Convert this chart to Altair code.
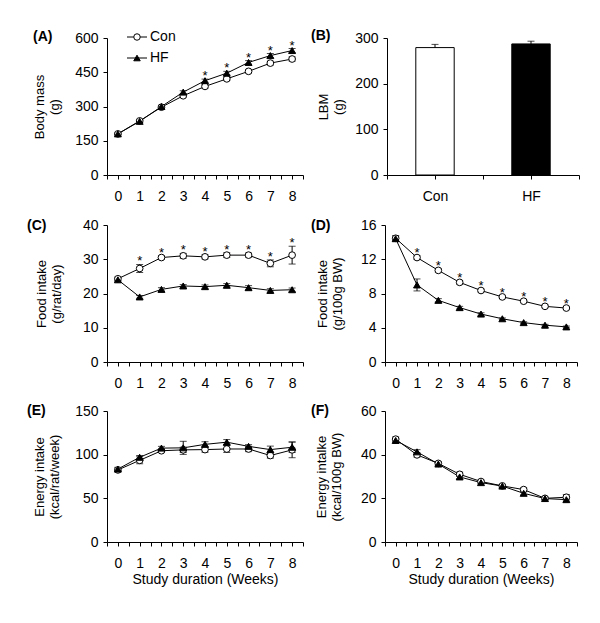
import altair as alt
import pandas as pd

FONT = "Liberation Sans"
weeks = list(range(9))

# (A) Body mass (g)
bm_con = [180, 237, 297, 347, 388, 421, 454, 490, 508]
bm_con_err = [4, 5, 5, 6, 7, 7, 7, 8, 9]
bm_hf = [180, 235, 300, 363, 413, 446, 493, 523, 545]
bm_hf_err = [4, 5, 5, 6, 7, 8, 8, 9, 9]
bm_stars = [4, 5, 6, 7, 8]

# (B) LBM (g)
lbm_groups = ["Con", "HF"]
lbm_vals = [279, 287]
lbm_err = [7, 6]

# (C) Food intake (g/rat/day)
fi_con = [24.3, 27.3, 30.5, 31.0, 30.7, 31.2, 31.2, 28.8, 31.2]
fi_con_err = [0.5, 1.2, 0.5, 0.7, 0.6, 0.7, 0.6, 1.0, 2.6]
fi_hf = [24.0, 19.0, 21.2, 22.2, 22.0, 22.4, 21.7, 20.9, 21.1]
fi_hf_err = [0.5, 0.4, 0.5, 0.4, 0.5, 0.5, 0.6, 0.5, 0.5]
fi_stars = [1, 2, 3, 4, 5, 6, 7, 8]

# (D) Food intake (g/100g BW)
fw_con = [14.45, 12.2, 10.7, 9.3, 8.35, 7.6, 7.1, 6.5, 6.3]
fw_con_err = [0.3, 0.2, 0.2, 0.2, 0.15, 0.15, 0.15, 0.15, 0.15]
fw_hf = [14.4, 9.0, 7.2, 6.35, 5.6, 5.05, 4.6, 4.3, 4.1]
fw_hf_err = [0.3, 0.7, 0.2, 0.15, 0.15, 0.1, 0.1, 0.1, 0.1]
fw_stars = [1, 2, 3, 4, 5, 6, 7, 8]

# (E) Energy intake (kcal/rat/week)
ei_con = [82.5, 93.5, 104.5, 105.5, 105.8, 106.5, 106.5, 99.0, 105.5]
ei_con_err = [2, 4, 2, 3, 3, 4, 3, 3, 9]
ei_hf = [83.5, 97.0, 107.5, 107.8, 111.8, 114.3, 109.5, 105.8, 108.5]
ei_hf_err = [2, 2, 2, 7.5, 3, 3, 2, 4, 6]

# (F) Energy intake (kcal/100g BW)
eb_con = [47.1, 39.9, 36.0, 31.0, 27.7, 25.7, 24.0, 20.0, 20.5]
eb_con_err = [1, 1, 0.8, 1, 0.6, 0.6, 0.8, 0.6, 1.2]
eb_hf = [46.5, 41.3, 35.7, 29.8, 27.2, 25.6, 22.3, 19.9, 19.4]
eb_hf_err = [1, 1, 0.8, 0.8, 0.6, 0.6, 0.7, 0.5, 0.7]

XTICKS = [i / 2 for i in range(-1, 18)]


def panel_label(text, dx, dy):
    return alt.Chart(pd.DataFrame({"t": [text]})).mark_text(
        align="left", baseline="middle", font=FONT, fontSize=14,
        fontWeight="bold", color="black"
    ).encode(x=alt.value(dx), y=alt.value(dy), text="t:N")


def yaxis_def(values, title, tx):
    return alt.Axis(values=values, tickCount=100, format="d", title=title,
                    labelOverlap=False, titleX=tx, titleBaseline="middle",
                    titleAlign="center", titleAngle=270)


def line_panel(con, con_err, hf, hf_err, stars, ymax, ystep, ytitle, label,
               ldx, ldy, width, height, tx, xtitle=None, legend=False):
    rows = []
    for g, vals, errs in (("Con", con, con_err), ("HF", hf, hf_err)):
        for w, v, e in zip(weeks, vals, errs):
            rows.append({"week": w, "group": g, "v": v, "lo": v - e, "hi": v + e})
    df = pd.DataFrame(rows)
    star_rows = []
    for w in stars:
        top = max(con[w] + con_err[w], hf[w] + hf_err[w])
        star_rows.append({"week": w, "top": top, "s": "*"})
    sdf = pd.DataFrame(star_rows)

    x = alt.X("week:Q", scale=alt.Scale(domain=[-0.5, 8.5], nice=False, zero=False),
              axis=alt.Axis(values=XTICKS, tickCount=100, title=xtitle,
                            labelOverlap=False,
                            labelExpr="datum.value % 1 == 0 ? '' + datum.value : ''"))
    yscale = alt.Scale(domain=[0, ymax], nice=False)
    yaxis = yaxis_def(list(range(0, ymax + 1, ystep)), ytitle, tx)

    base = alt.Chart(df)
    err = base.mark_rule(color="black", strokeWidth=1).encode(
        x=x, y=alt.Y("lo:Q", scale=yscale, axis=yaxis), y2="hi:Q")
    cap_lo = base.mark_tick(color="black", orient="horizontal", size=7, thickness=1).encode(
        x="week:Q", y="lo:Q")
    cap_hi = base.mark_tick(color="black", orient="horizontal", size=7, thickness=1).encode(
        x="week:Q", y="hi:Q")
    line = base.mark_line(color="black", strokeWidth=1).encode(
        x="week:Q", y="v:Q", detail="group:N")
    con_pts = base.transform_filter("datum.group == 'Con'").mark_point(
        shape="circle", filled=True, fill="white", stroke="black", strokeWidth=1,
        size=45, opacity=1).encode(x="week:Q", y="v:Q")
    hf_pts = base.transform_filter("datum.group == 'HF'").mark_point(
        shape="triangle-up", filled=True, fill="black", stroke="black", strokeWidth=1,
        size=48, opacity=1).encode(x="week:Q", y="v:Q")
    layers = [err, cap_lo, cap_hi, line, con_pts, hf_pts]
    if len(sdf):
        star = alt.Chart(sdf).mark_text(
            font=FONT, fontSize=13, baseline="alphabetic", dy=1, color="black"
        ).encode(x="week:Q", y="top:Q", text="s:N")
        layers.append(star)
    layers.append(panel_label(label, ldx, ldy))
    if legend:
        ld = pd.DataFrame({"a": [0]})
        for ly, name, shp, fill in ((-1, "Con", "circle", "white"),
                                     (20, "HF", "triangle-up", "black")):
            layers.append(alt.Chart(ld).mark_rule(color="black", strokeWidth=1).encode(
                x=alt.value(20), x2=alt.value(40), y=alt.value(ly)))
            layers.append(alt.Chart(ld).mark_point(
                shape=shp, filled=True, fill=fill, stroke="black", strokeWidth=1,
                size=42, opacity=1).encode(x=alt.value(30), y=alt.value(ly)))
            layers.append(alt.Chart(pd.DataFrame({"t": [name]})).mark_text(
                align="left", baseline="middle", font=FONT, fontSize=14, color="black"
            ).encode(x=alt.value(43), y=alt.value(ly), text="t:N"))
    return alt.layer(*layers).properties(width=width, height=height)


def bar_panel(width, height):
    df = pd.DataFrame({"g": lbm_groups, "v": lbm_vals, "e": lbm_err})
    df["pos"] = [1, 3]
    df["x0"] = df["pos"] - 0.4
    df["x1"] = df["pos"] + 0.4
    df["hi"] = df["v"] + df["e"]
    df["base"] = 0
    xs = alt.Scale(domain=[0, 4], nice=False, zero=False)
    x = alt.X("x0:Q", scale=xs, axis=alt.Axis(
        values=[0, 1, 2, 3, 4], tickCount=100, title=None, labelOverlap=False,
        labelExpr="datum.value == 1 ? 'Con' : (datum.value == 3 ? 'HF' : '')"))
    ys = alt.Scale(domain=[0, 300], nice=False)
    base = alt.Chart(df)
    bars = base.mark_rect(stroke="black", strokeWidth=1).encode(
        x=x, x2="x1:Q",
        y=alt.Y("v:Q", scale=ys, axis=yaxis_def([0, 100, 200, 300], ["LBM", "(g)"], -64)),
        y2="base:Q",
        fill=alt.Fill("g:N", scale=alt.Scale(domain=["Con", "HF"],
                                             range=["white", "black"]), legend=None))
    err = base.mark_rule(color="black", strokeWidth=1).encode(
        x="pos:Q", y="v:Q", y2="hi:Q")
    cap = base.mark_tick(color="black", orient="horizontal", size=7, thickness=1).encode(
        x="pos:Q", y="hi:Q")
    return alt.layer(bars, err, cap, panel_label("(B)", -76, -2)).properties(
        width=width, height=height)


LW, RW = 196, 192
pA = line_panel(bm_con, bm_con_err, bm_hf, bm_hf_err, bm_stars, 600, 150,
                ["Body mass", "(g)"], "(A)", -74, -1, LW, 137, -68, legend=True)
pB = bar_panel(RW, 137)
pC = line_panel(fi_con, fi_con_err, fi_hf, fi_hf_err, fi_stars, 40, 10,
                ["Food intake", "(g/rat/day)"], "(C)", -80, 1, LW, 137, -66)
pD = line_panel(fw_con, fw_con_err, fw_hf, fw_hf_err, fw_stars, 16, 4,
                ["Food intake", "(g/100g BW)"], "(D)", -74, 1, RW, 137, -63)
pE = line_panel(ei_con, ei_con_err, ei_hf, ei_hf_err, [], 150, 50,
                ["Energy intake", "(kcal/rat/week)"], "(E)", -80, 0, LW, 131, -68,
                xtitle="Study duration (Weeks)")
pF = line_panel(eb_con, eb_con_err, eb_hf, eb_hf_err, [], 60, 20,
                ["Energy intalke", "(kcal/100g BW)"], "(F)", -74, 0, RW, 131, -64,
                xtitle="Study duration (Weeks)")

chart = alt.vconcat(
    alt.vconcat(
        alt.hconcat(pA, pB, spacing=7),
        alt.hconcat(pC, pD, spacing=7),
        spacing=15,
    ),
    alt.hconcat(pE, pF, spacing=7),
    spacing=14,
).properties(
    padding={"left": 19, "top": 21, "right": 5, "bottom": 5},
    background="white",
).configure_view(stroke=None).configure_axis(
    grid=False, domainColor="black", tickColor="black", labelColor="black",
    titleColor="black", labelFont=FONT, titleFont=FONT, labelFontSize=14,
    titleFontSize=13, titleFontWeight="normal", tickSize=4, labelPadding=5,
    domainWidth=1, tickWidth=1, titleLineHeight=15, labelOverlap=False,
).configure_axisX(titleFontSize=14, labelPadding=10, titlePadding=2)

chart.save("out.html", embed_options={"renderer": "svg", "actions": False})
